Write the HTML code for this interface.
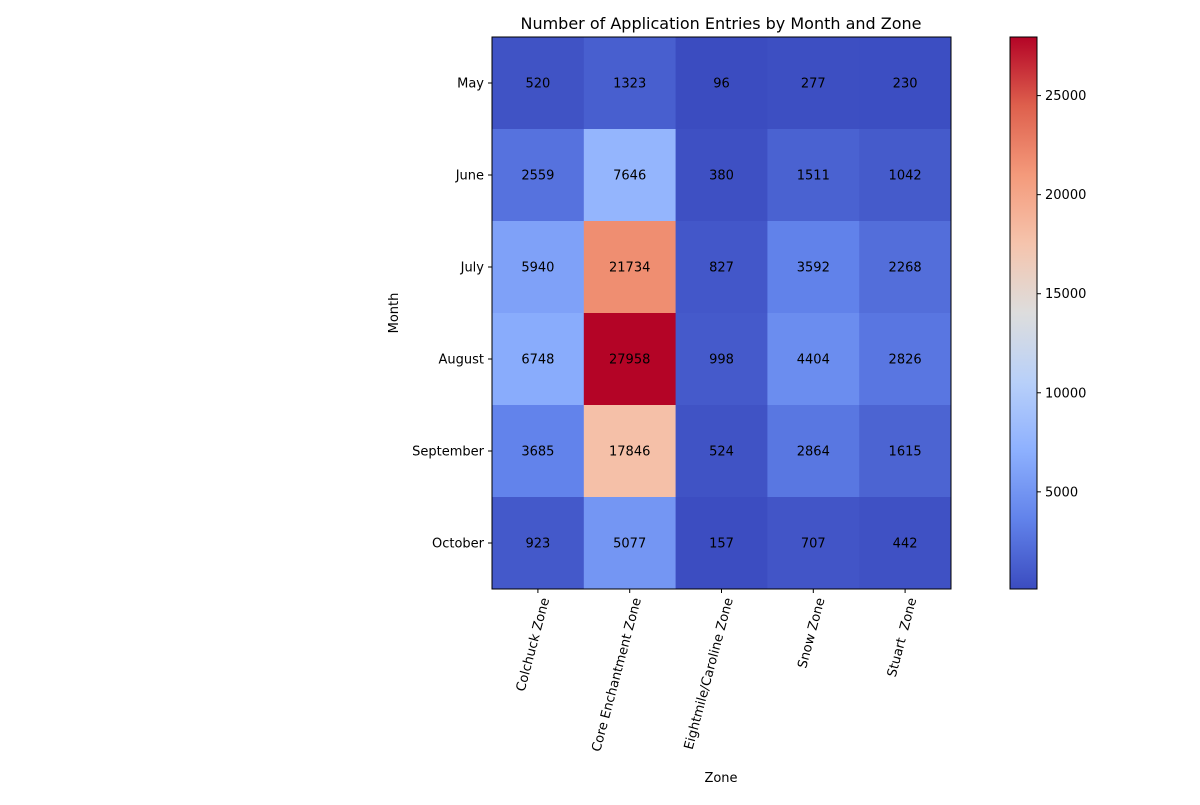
<!DOCTYPE html>
<html><head><meta charset="utf-8"><style>
body{margin:0;background:#fff}
svg text{font-family:"DejaVu Sans","Liberation Sans",sans-serif;white-space:pre;}
</style></head><body>
<svg id="chart" width="1200" height="800" xmlns="http://www.w3.org/2000/svg">
<defs><linearGradient id="cbg" x1="0" y1="1" x2="0" y2="0"></linearGradient></defs>
<text x="721" y="29" font-size="16" text-anchor="middle">Number of Application Entries by Month and Zone</text>
<g id="cells"></g>
<g id="labels"></g>
<rect x="492" y="37" width="459" height="552" fill="none" stroke="#000" stroke-width="1"/>
<g id="axes"></g>
<text transform="translate(398,313) rotate(-90)" font-size="13" text-anchor="middle">Month</text>
<text x="721" y="782" font-size="13" text-anchor="middle">Zone</text>
<rect x="1010" y="37" width="27" height="552" fill="url(#cbg)" stroke="#000" stroke-width="1"/>
<g id="cbticks"></g>
</svg>
<script>
const months=["May","June","July","August","September","October"];
const zones=["Colchuck Zone","Core Enchantment Zone","Eightmile/Caroline Zone","Snow Zone","Stuart  Zone"];
const values=[
[520,1323,96,277,230],
[2559,7646,380,1511,1042],
[5940,21734,827,3592,2268],
[6748,27958,998,4404,2826],
[3685,17846,524,2864,1615],
[923,5077,157,707,442]];
const cbTicks=[5000,10000,15000,20000,25000];
const NS="http://www.w3.org/2000/svg";
const X0=492,Y0=37,W=459,H=552;
const flat=values.flat();const vmin=Math.min(...flat),vmax=Math.max(...flat);
const stops=[[59,76,192],[97,130,234],[141,176,254],[184,208,249],[221,221,221],[245,196,173],[244,154,123],[222,96,77],[180,4,38]];
function cmap(t){t=Math.max(0,Math.min(1,t));const s=t*8,i=Math.min(7,Math.floor(s)),f=s-i;const a=stops[i],b=stops[i+1];return `rgb(${a.map((v,k)=>Math.round(v+(b[k]-v)*f)).join(',')})`;}
const cw=W/zones.length,ch=H/months.length;
const xc=j=>X0+cw*(j+0.5),yc=i=>Y0+ch*(i+0.5);
const cbY=v=>Y0+H-(v-vmin)/(vmax-vmin)*H;
function mk(t,a,p){const e=document.createElementNS(NS,t);for(const k in a)e.setAttribute(k,a[k]);(p||document.getElementById('chart')).appendChild(e);return e;}
const cells=document.getElementById('cells'),labels=document.getElementById('labels'),axes=document.getElementById('axes'),cbt=document.getElementById('cbticks');
values.forEach((row,i)=>row.forEach((v,j)=>{
const r=mk('rect',{x:X0+cw*j,y:Y0+ch*i,width:cw+0.5,height:ch+0.5,fill:cmap((v-vmin)/(vmax-vmin))},cells);


const t=mk('text',{x:xc(j),y:yc(i)+4.5,'font-size':13,'text-anchor':'middle'},labels);


t.textContent=v;
}));
months.forEach((m,i)=>{
mk('line',{x1:X0-4,x2:X0,y1:yc(i),y2:yc(i),stroke:'#000'},axes);
const t=mk('text',{x:X0-8,y:yc(i)+4.5,'font-size':13,'text-anchor':'end'},axes);


t.textContent=m;
});
zones.forEach((z,j)=>{
mk('line',{x1:xc(j),x2:xc(j),y1:Y0+H,y2:Y0+H+4,stroke:'#000'},axes);
const t=mk('text',{transform:`translate(${xc(j)+7},${Y0+H+9}) rotate(-75)`,'font-size':13,'text-anchor':'end',dy:'0.35em'},axes);


t.textContent=z;
});
const g=document.getElementById('cbg');
for(let k=0;k<=16;k++){mk('stop',{offset:(k/16),'stop-color':cmap(k/16)},g);}
cbTicks.forEach(v=>{
mk('line',{x1:1037,x2:1041,y1:cbY(v),y2:cbY(v),stroke:'#000'},cbt);
const t=mk('text',{x:1045,y:cbY(v)+4.5,'font-size':13},cbt);


t.textContent=v;
});
</script>
</body></html>
